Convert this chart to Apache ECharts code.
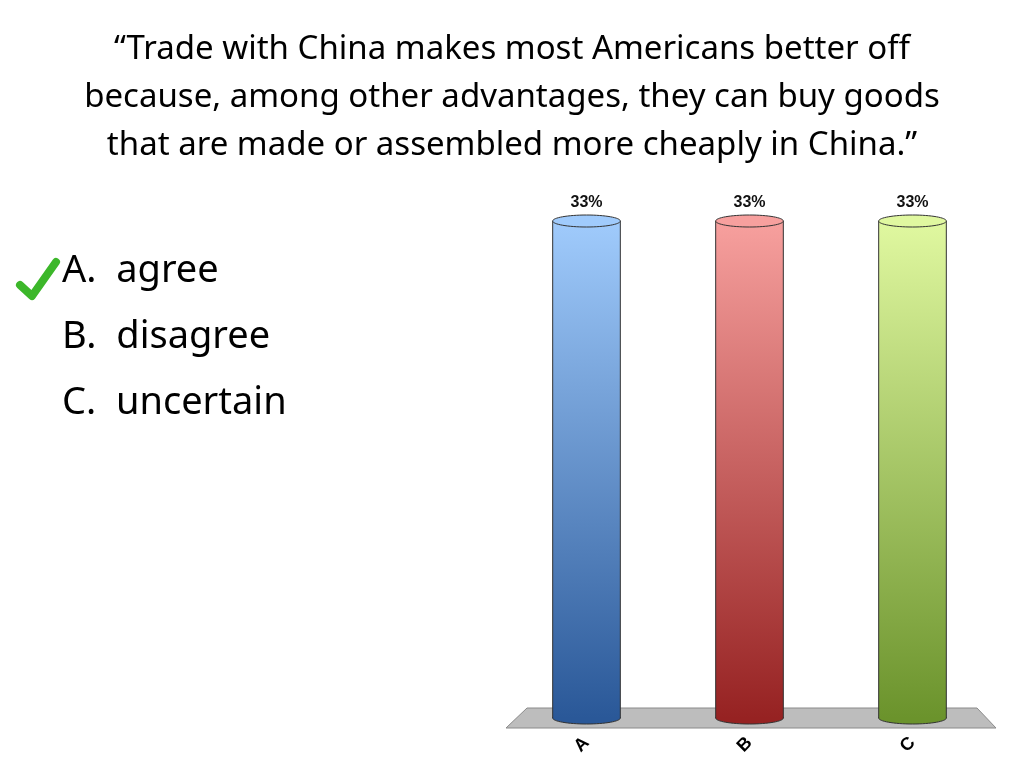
<!DOCTYPE html>
<html><head><meta charset="utf-8">
<script src="https://cdn.jsdelivr.net/npm/echarts@6/dist/echarts.min.js"></script>
<style>html,body{margin:0;background:#fff}#c{width:1024px;height:768px}</style>
</head><body><div id="c"></div>
<script>
const categories = ['A','B','C'];
const values = [33, 33, 33];
const labels = ['33%','33%','33%'];
const topColors = ['#a0cbfc','#f7a09e','#e0f8a0'];
const bottomColors = ['#2a5898','#962222','#6b932c'];
const titleLines = ['\u201cTrade with China makes most Americans better off','because, among other advantages, they can buy goods','that are made or assembled more cheaply in China.\u201d'];
const answers = ['A.  agree','B.  disagree','C.  uncertain'];

const chart = echarts.init(document.getElementById('c'));
const graphics = [
  {type:'polygon', z:0, shape:{points:[[527,708],[977,708],[996,728],[506,728]]}, style:{fill:'#bdbdbd',stroke:'#8a8a8a',lineWidth:1}},
  {type:'polyline', shape:{points:[[20,285],[32,296],[56,262]]}, style:{stroke:'#3cb72a',lineWidth:8,fill:null,lineCap:'round',lineJoin:'round'}}
];
titleLines.forEach((t,i)=>graphics.push({type:'text',left:'center',top:33+i*48,style:{text:t,font:'33px "Noto Sans"',fill:'#000'}}));
answers.forEach((t,i)=>graphics.push({type:'text',left:62,top:252+i*66,style:{text:t,font:'38px "Noto Sans"',fill:'#000'}}));

chart.setOption({
  animation:false,
  grid:{left:505,right:30,top:221,bottom:50},
  xAxis:{type:'category',data:categories,axisLine:{show:false},axisTick:{show:false},
    axisLabel:{rotate:45,margin:22,fontSize:18,fontWeight:'bold',color:'#000',fontFamily:'Arial'}},
  yAxis:{type:'value',min:0,max:33,show:false},
  graphic:graphics,
  series:[{type:'custom',z:5,data:values.map((v,i)=>[i,v]),
    renderItem:(params,api)=>{
      const i=api.value(0);
      const top=api.coord([i,api.value(1)]);
      const base=api.coord([i,0]);
      const w=api.size([1,0])[0]*0.415;
      const x=top[0]-w/2, ry=6;
      const grad=new echarts.graphic.LinearGradient(0,0,0,1,[{offset:0,color:topColors[i]},{offset:1,color:bottomColors[i]}]);
      return {type:'group',children:[
        {type:'ellipse',shape:{cx:top[0],cy:base[1],rx:w/2,ry:ry},style:{fill:bottomColors[i],stroke:'#333',lineWidth:1}},
        {type:'rect',shape:{x:x,y:top[1],width:w,height:base[1]-top[1]},style:{fill:grad,stroke:null}},
        {type:'line',shape:{x1:x,y1:top[1],x2:x,y2:base[1]},style:{stroke:'#333',lineWidth:1}},
        {type:'line',shape:{x1:x+w,y1:top[1],x2:x+w,y2:base[1]},style:{stroke:'#333',lineWidth:1}},
        {type:'ellipse',shape:{cx:top[0],cy:top[1],rx:w/2,ry:ry},style:{fill:topColors[i],stroke:'#333',lineWidth:1}},
        {type:'text',style:{text:labels[i],x:top[0],y:top[1]-10,align:'center',verticalAlign:'bottom',font:'bold 16px Arial',fill:'#111'}}
      ]};
    }}]
});
</script></body></html>
